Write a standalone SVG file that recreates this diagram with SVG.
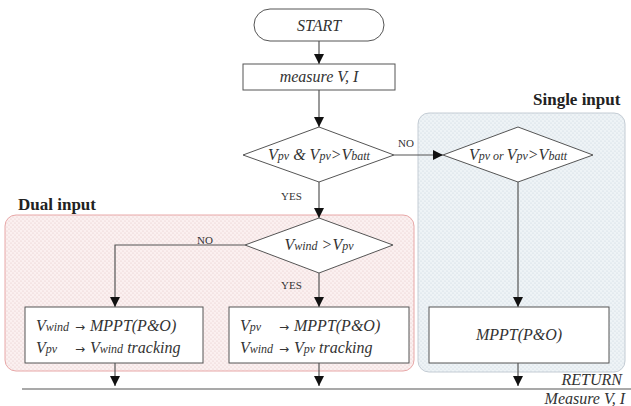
<svg xmlns="http://www.w3.org/2000/svg" width="631" height="406" viewBox="0 0 631 406">
<defs>
<pattern id="dotsPink" width="4" height="4" patternUnits="userSpaceOnUse">
<rect width="4" height="4" fill="#fbf0f0"/>
<circle cx="1" cy="1" r="0.6" fill="#e2c4c4"/>
<circle cx="3" cy="3" r="0.6" fill="#e2c4c4"/>
</pattern>
<pattern id="dotsBlue" width="4" height="4" patternUnits="userSpaceOnUse">
<rect width="4" height="4" fill="#eef3f6"/>
<circle cx="1" cy="1" r="0.6" fill="#c8d4dc"/>
<circle cx="3" cy="3" r="0.6" fill="#c8d4dc"/>
</pattern>
<marker id="arr" viewBox="0 0 10 10" refX="10" refY="5" markerWidth="10" markerHeight="10" markerUnits="userSpaceOnUse" orient="auto">
<path d="M0,0 L10,5 L0,10 Z" fill="#111"/>
</marker>
</defs>
<style>
.shape{fill:#fff;stroke:#555;stroke-width:1}
.ln{fill:none;stroke:#555;stroke-width:1.2}
.t{font-family:'Liberation Serif','Times New Roman','DejaVu Serif',serif;font-style:italic;fill:#333;font-size:16px}
.s{font-size:12px}
.ar{font-family:'DejaVu Sans',sans-serif;font-style:normal;font-size:12px}
.lbl{font-family:'Liberation Serif','Times New Roman','DejaVu Serif',serif;fill:#333;font-size:11px}
.hdr{font-family:'Liberation Serif','Times New Roman','DejaVu Serif',serif;font-weight:bold;fill:#222;font-size:17px}
</style>

<g id="region-dual">
<rect x="5" y="215" width="409" height="156" rx="11" fill="url(#dotsPink)" stroke="#e8a8a8" stroke-width="1"/>
<text class="hdr" x="18" y="210">Dual input</text>
</g>
<g id="region-single">
<rect x="418" y="113" width="207" height="259" rx="11" fill="url(#dotsBlue)" stroke="#c4ccd4" stroke-width="1"/>
<text class="hdr" x="533" y="105">Single input</text>
</g>

<g id="connectors">
<line class="ln" x1="319" y1="41" x2="319" y2="64" marker-end="url(#arr)"/>
<line class="ln" x1="319" y1="90" x2="319" y2="127" marker-end="url(#arr)"/>
<line class="ln" x1="394" y1="155" x2="443" y2="155" marker-end="url(#arr)"/>
<line class="ln" x1="319" y1="182" x2="319" y2="218" marker-end="url(#arr)"/>
<polyline class="ln" points="245,245 115,245 115,307" marker-end="url(#arr)"/>
<line class="ln" x1="319" y1="273" x2="319" y2="307" marker-end="url(#arr)"/>
<line class="ln" x1="518" y1="182" x2="518" y2="307" marker-end="url(#arr)"/>
<line class="ln" x1="115" y1="363" x2="115" y2="386" marker-end="url(#arr)"/>
<line class="ln" x1="319" y1="363" x2="319" y2="386" marker-end="url(#arr)"/>
<line class="ln" x1="518" y1="363" x2="518" y2="386" marker-end="url(#arr)"/>
<line class="ln" x1="22" y1="389" x2="631" y2="389"/>
<text class="lbl" x="398" y="147">NO</text>
<text class="lbl" x="281" y="200">YES</text>
<text class="lbl" x="197" y="244">NO</text>
<text class="lbl" x="281" y="289">YES</text>
</g>

<g id="start">
<rect class="shape" x="254" y="9" width="130" height="32" rx="16"/>
<text class="t" x="319" y="31" text-anchor="middle" font-size="18">START</text>
</g>
<g id="measure">
<rect class="shape" x="243" y="64" width="152" height="26"/>
<text class="t" x="319" y="82" text-anchor="middle" font-size="14">measure V, I</text>
</g>
<g id="decision1">
<polygon class="shape" points="243,155 319,127 394,155 319,182"/>
<text class="t" x="319" y="160" text-anchor="middle">V<tspan class="s">pv</tspan> &amp; V<tspan class="s">pv</tspan>&gt;V<tspan class="s">batt</tspan></text>
</g>
<g id="decision2">
<polygon class="shape" points="443,155 518,127 593,155 518,182"/>
<text class="t" x="518" y="160" text-anchor="middle">V<tspan class="s">pv</tspan><tspan class="s"> or </tspan>V<tspan class="s">pv</tspan>&gt;V<tspan class="s">batt</tspan></text>
</g>
<g id="decision3">
<polygon class="shape" points="245,245 319,218 393,245 319,273"/>
<text class="t" x="319" y="250" text-anchor="middle">V<tspan class="s">wind</tspan> &gt;V<tspan class="s">pv</tspan></text>
</g>
<g id="box-wind">
<rect class="shape" x="25" y="307" width="178" height="56"/>
<text class="t" x="36" y="331">V<tspan class="s">wind</tspan> <tspan class="ar" x="75">→</tspan> <tspan x="90">MPPT(P&amp;O)</tspan></text>
<text class="t" x="36" y="353">V<tspan class="s">pv</tspan><tspan class="ar" x="75">→</tspan> <tspan x="90">V</tspan><tspan class="s">wind</tspan> tracking</text>
</g>
<g id="box-pv">
<rect class="shape" x="229" y="307" width="180" height="56"/>
<text class="t" x="240" y="331">V<tspan class="s">pv</tspan><tspan class="ar" x="279">→</tspan> <tspan x="294">MPPT(P&amp;O)</tspan></text>
<text class="t" x="240" y="353">V<tspan class="s">wind</tspan> <tspan class="ar" x="279">→</tspan> <tspan x="294">V</tspan><tspan class="s">pv</tspan> tracking</text>
</g>
<g id="box-single">
<rect class="shape" x="429" y="307" width="180" height="56"/>
<text class="t" x="519" y="340" text-anchor="middle" font-size="14">MPPT(P&amp;O)</text>
</g>
<g id="return">
<text class="t" x="622" y="385" text-anchor="end" font-size="16">RETURN</text>
<text class="t" x="625" y="404" text-anchor="end" font-size="16">Measure V, I</text>
</g>
</svg>
